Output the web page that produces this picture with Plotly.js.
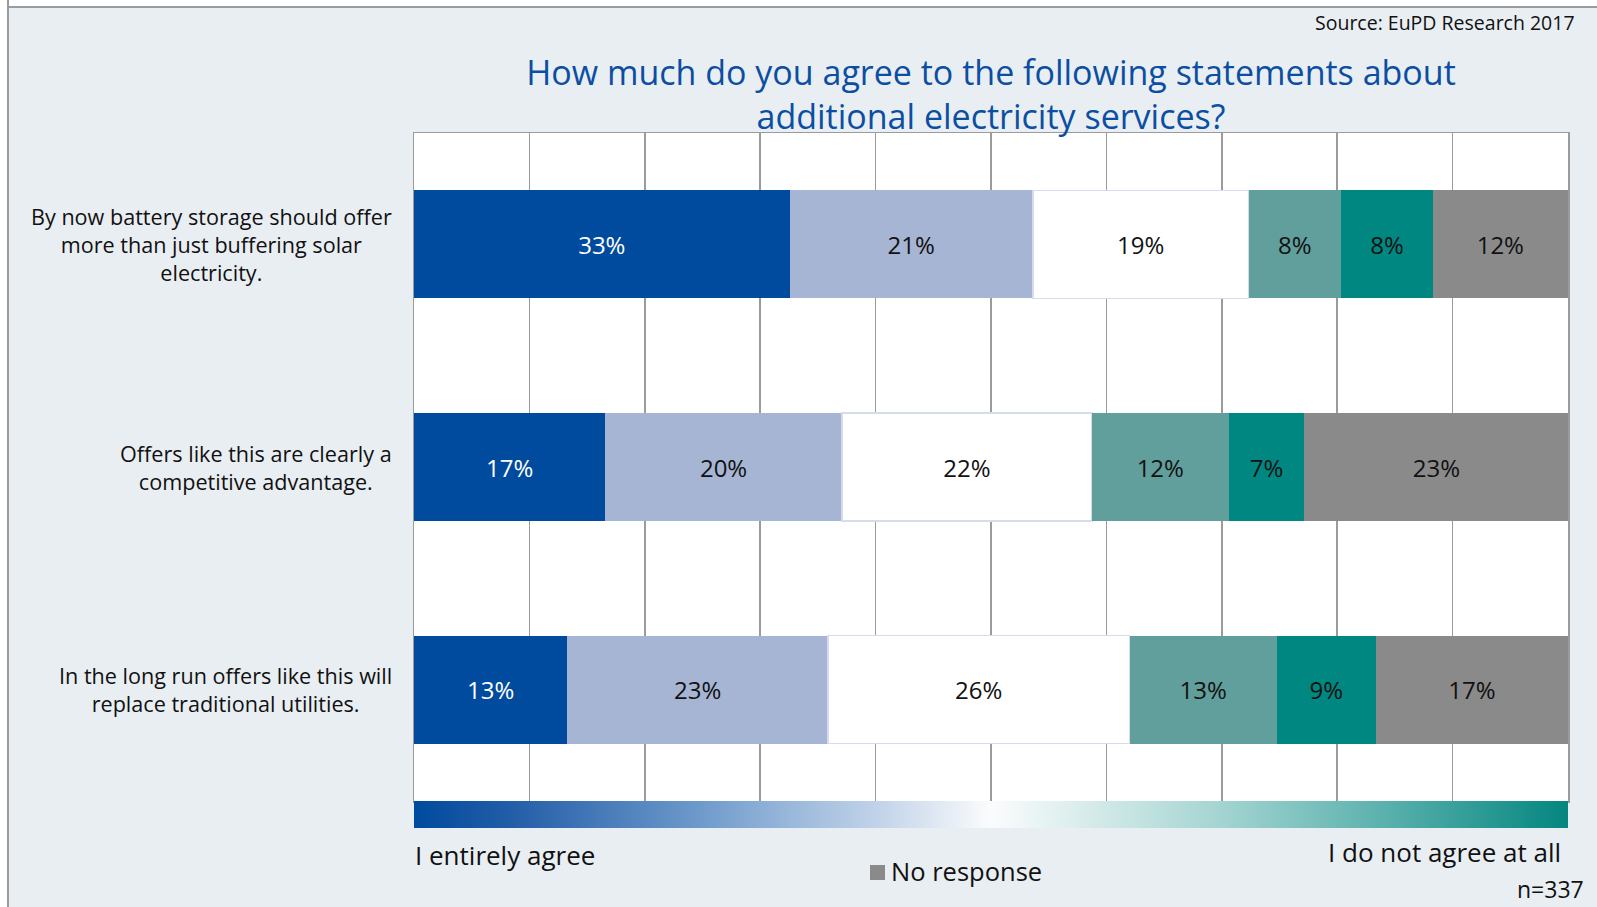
<!DOCTYPE html>
<html><head><meta charset="utf-8">
<script src="https://cdn.plot.ly/plotly-3.0.1.min.js"></script>
<style>
html,body{margin:0;padding:0;background:#fff;overflow:hidden;}
#chart{position:absolute;left:0;top:0;width:1597px;height:907px;}
#ftop{position:absolute;left:0;top:0;width:1597px;height:6px;background:#fff;border-bottom:2px solid #9b9b9b;}
#fleft{position:absolute;left:0;top:0;width:7px;height:907px;background:#fff;border-right:2px solid #9b9b9b;}
</style></head>
<body>
<div id="chart"></div><div id="ftop"></div><div id="fleft"></div>
<script>
// ---- data ----
const statements = [
  'By now battery storage should offer<br>more than just buffering solar<br>electricity.',
  'Offers like this are clearly a<br>competitive advantage.',
  'In the long run offers like this will<br>replace traditional utilities.'
];
const seriesNames = ['I entirely agree', 'Agree', 'Neutral', 'Disagree', 'I do not agree at all', 'No response'];
const entirelyAgree  = [32.55, 16.58, 13.29];
const agree          = [21.07, 20.49, 22.57];
const neutral        = [18.70, 21.67, 26.15];
const disagree       = [8.02, 11.86, 12.75];
const notAgreeAtAll  = [7.97, 6.55, 8.60];
const noResponse     = [11.65, 22.90, 16.64];
const titleText = 'How much do you agree to the following statements about<br>additional electricity services?';
const sourceText = 'Source: EuPD Research 2017';
const sampleText = 'n=337';
const scaleLeftText = 'I entirely agree';
const scaleRightText = 'I do not agree at all';
const noResponseText = 'No response';

// ---- styles ----
const FONT = 'Open Sans, Noto Sans, sans-serif';
const colors = ['#004c9e', '#a6b5d4', '#ffffff', '#619f9c', '#008782', '#8a8a8a'];
const textColors = ['#ffffff', '#111111', '#111111', '#111111', '#111111', '#111111'];
const gradient = [
  [0, '#004b9d'], [0.08, '#215ca7'], [0.25, '#6f9bcb'], [0.33, '#9bb9db'],
  [0.41, '#c6d6ea'], [0.5, '#fbfcfd'], [0.58, '#d8eceb'], [0.7, '#a3d4d1'],
  [0.84, '#5bb1ad'], [1, '#04867f']
];
const seriesValues = [entirelyAgree, agree, neutral, disagree, notAgreeAtAll, noResponse];

const traces = seriesValues.map((vals, i) => {
  const t = {
    type: 'bar', orientation: 'h', name: seriesNames[i],
    x: vals, y: statements,
    marker: { color: colors[i], line: { width: i === 2 ? 1.5 : 0, color: '#d6dbee' } },
    texttemplate: '%{x:.0f}%', textposition: 'inside', insidetextanchor: 'middle',
    textangle: 0, constraintext: 'none',
    textfont: { family: FONT, size: 24, color: textColors[i] },
    hoverinfo: 'skip', showlegend: false
  };
  if (i === 0) {
    // first series carries the agreement gradient scale drawn under the plot
    t.marker.color = vals.map(() => 0);
    t.marker.colorscale = gradient;
    t.marker.cmin = 0; t.marker.cmax = 1;
    t.marker.showscale = true;
    t.marker.colorbar = {
      orientation: 'h', x: 0.5, xanchor: 'center', xref: 'paper',
      y: 0, yanchor: 'top', yref: 'paper',
      len: 1, lenmode: 'fraction', thickness: 27, thicknessmode: 'pixels',
      xpad: 0, ypad: 0, outlinewidth: 0, borderwidth: 0,
      showticklabels: false, ticks: '', bgcolor: 'rgba(0,0,0,0)'
    };
  }
  return t;
});

const W = 1597, H = 907, L = 414, R = 29, T = 133, B = 106;
const pw = W - L - R, ph = H - T - B;
const px = v => (v - L) / pw;            // pixel x -> paper
const py = v => (H - B - v) / ph;        // pixel y -> paper

// statement labels: centred lines, block right-aligned just left of the plot
const annotations = statements.map(s => ({
  text: s, xref: 'paper', x: px(393), xanchor: 'right', align: 'center',
  yref: 'y', y: s, yanchor: 'middle', showarrow: false, borderpad: 0,
  font: { family: FONT, size: 21.6, color: '#111111' }
}));

annotations.push(
  { text: sourceText, xref: 'paper', yref: 'paper', x: px(1576), y: py(22.6), xanchor: 'right', yanchor: 'middle',
    showarrow: false, borderpad: 0, font: { family: FONT, size: 19.5, color: '#111111' } },
  { text: scaleLeftText, xref: 'paper', yref: 'paper', x: px(414), y: py(854.5), xanchor: 'left', yanchor: 'middle',
    showarrow: false, borderpad: 0, font: { family: FONT, size: 26, color: '#111111' } },
  { text: scaleRightText, xref: 'paper', yref: 'paper', x: px(1562), y: py(851.5), xanchor: 'right', yanchor: 'middle',
    showarrow: false, borderpad: 0, font: { family: FONT, size: 26, color: '#111111' } },
  { text: noResponseText, xref: 'paper', yref: 'paper', x: px(890), y: py(871), xanchor: 'left', yanchor: 'middle',
    showarrow: false, borderpad: 0, font: { family: FONT, size: 25.5, color: '#111111' } },
  { text: sampleText, xref: 'paper', yref: 'paper', x: px(1585), y: py(889), xanchor: 'right', yanchor: 'middle',
    showarrow: false, borderpad: 0, font: { family: FONT, size: 23, color: '#111111' } }
);

const layout = {
  width: W, height: H,
  margin: { l: L, r: R, t: T, b: B, pad: 0 },
  paper_bgcolor: '#e9eef3', plot_bgcolor: '#ffffff',
  barmode: 'stack', bargap: 0.515,
  font: { family: FONT, color: '#111111' },
  title: {
    text: titleText, font: { family: FONT, size: 34, color: '#0b4ea2' },
    x: 0.5, xref: 'paper', xanchor: 'center',
    y: 1 - 85 / H, yref: 'container', yanchor: 'top'
  },
  xaxis: {
    range: [0, 100], dtick: 10, showgrid: true, gridcolor: '#9b9b9b', gridwidth: 1.5,
    zeroline: false, showticklabels: false, ticks: '', fixedrange: true,
    showline: true, mirror: true, linecolor: '#9b9b9b', linewidth: 1.5
  },
  yaxis: {
    type: 'category', range: [2.5, -0.5], showgrid: false, zeroline: false,
    showticklabels: false, ticks: '', fixedrange: true,
    showline: true, mirror: true, linecolor: '#9b9b9b', linewidth: 1.5
  },
  shapes: [{
    type: 'rect', xref: 'paper', yref: 'paper',
    x0: px(870), x1: px(885), y0: py(880), y1: py(865),
    fillcolor: '#8a8a8a', line: { width: 0 }
  }],
  annotations: annotations
};

Plotly.newPlot('chart', traces, layout, { displayModeBar: false, staticPlot: true });
</script>
</body></html>
